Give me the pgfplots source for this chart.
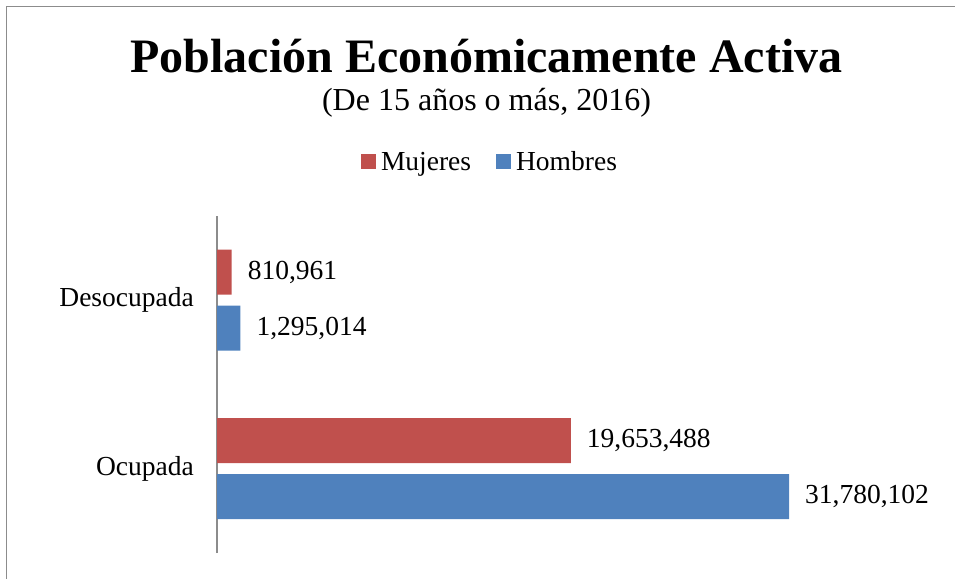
\documentclass[border=0pt]{standalone}
\usepackage{pgfplots}
\pgfplotsset{compat=1.18}
\usepackage{fontspec}
\setmainfont{Liberation Serif}

\definecolor{mujeres}{HTML}{C0504D}
\definecolor{hombres}{HTML}{4F81BD}
\definecolor{frame}{HTML}{8C8C8C}

\newcommand{\lbl}{\fontsize{27.5bp}{33bp}\selectfont}

\begin{document}
\begin{tikzpicture}
\useasboundingbox (0,0) rectangle (955bp,579bp);
% outer frame (only left and top edges are visible)
\draw[frame, line width=1.5bp] (6.5bp,0) -- (6.5bp,572.5bp) -- (955bp,572.5bp);

% titles
\node[anchor=base, inner sep=0pt, font=\fontsize{48bp}{56bp}\selectfont\bfseries]
    at (486.5bp,506bp) {Población Económicamente Activa};
\node[anchor=base, inner sep=0pt, font=\fontsize{32bp}{38bp}\selectfont]
    at (486.5bp,468bp) {(De 15 años o más, 2016)};

\begin{axis}[
    at={(217bp,26bp)},
    anchor=south west,
    scale only axis,
    width=630bp,
    height=337bp,
    xbar,
    bar width=45bp,
    xmin=0, xmax=35000000,
    ymin=0, ymax=2,
    axis x line=none,
    axis y line=left,
    axis line style={-, color=frame, line width=2bp},
    ytick={0.5,1.5},
    yticklabels={Ocupada,Desocupada},
    major tick length=0pt,
    yticklabel style={font=\lbl, anchor=east, inner sep=0pt, xshift=-23bp},
    clip=false,
    nodes near coords,
    point meta=explicit symbolic,
    every node near coord/.append style={font=\lbl, anchor=west, inner sep=0pt, xshift=16bp, color=black},
    legend columns=2,
    legend style={at={(0.4357,1.160)}, anchor=center, draw=none, fill=none,
        font=\lbl, inner sep=0pt,
        /tikz/every even column/.append style={column sep=20bp},
        nodes={inner sep=5bp}},
    legend image code/.code={\fill[#1] (0bp,-7bp) rectangle (15bp,8bp);},
]
\addplot[fill=mujeres, draw=none, bar shift=28bp] coordinates {
    (19653488,0.5) [19,653,488]
    (810961,1.5)   [810,961]
};
\addlegendentry{Mujeres}
\addplot[fill=hombres, draw=none, bar shift=-28bp] coordinates {
    (31780102,0.5) [31,780,102]
    (1295014,1.5)  [1,295,014]
};
\addlegendentry{Hombres}
\end{axis}
\end{tikzpicture}
\end{document}
